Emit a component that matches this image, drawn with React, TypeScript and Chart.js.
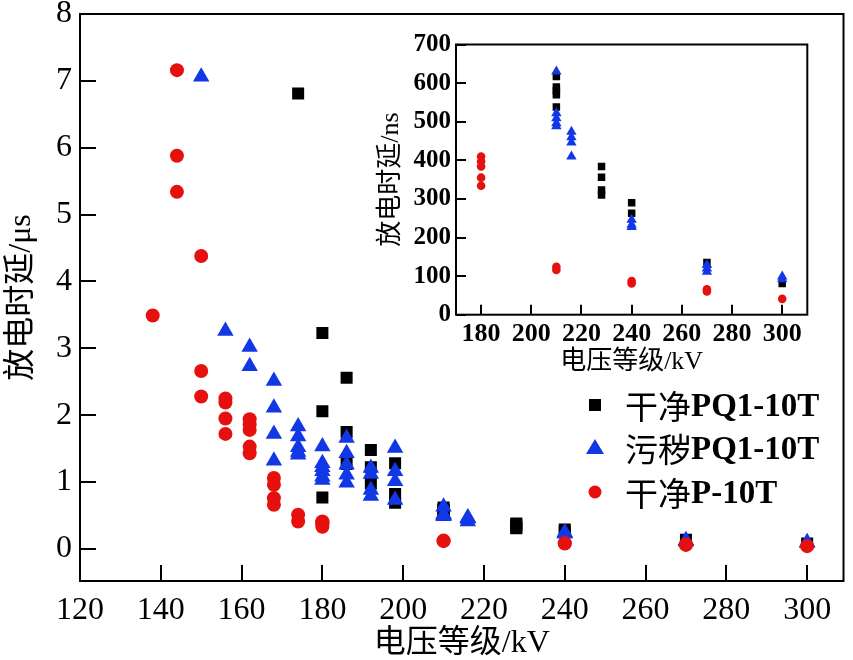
import React, { useEffect, useRef } from 'react';
import { Chart, registerables } from 'chart.js';

Chart.register(...registerables);

// ---------- data ----------
const SERIES_NAMES = ['干净PQ1-10T', '污秽PQ1-10T', '干净P-10T'];
const SERIES_COLORS = ['#000000', '#1238e6', '#e6100e'];

// Main chart: voltage level (kV) vs discharge delay (µs)
const cleanPQ_kV = [174, 180, 180, 180, 186, 186, 186, 192, 192, 192, 198, 198, 198, 210, 210, 210, 210, 210, 228, 228, 228, 228, 240, 240, 270, 300];
const cleanPQ_us = [6.81, 3.23, 2.06, 0.77, 2.56, 1.75, 1.27, 1.48, 1.22, 0.98, 1.28, 0.82, 0.69, 0.62, 0.59, 0.58, 0.57, 0.54, 0.38, 0.36, 0.32, 0.31, 0.29, 0.26, 0.135, 0.08];

const dirtyPQ_kV = [150, 156, 162, 162, 168, 168, 168, 168, 174, 174, 174, 174, 174, 180, 180, 180, 180, 180, 180, 186, 186, 186, 186, 186, 192, 192, 192, 192, 198, 198, 198, 198, 210, 210, 210, 210, 210, 216, 216, 216, 216, 240, 240, 240, 270, 270, 270, 300, 300];
const dirtyPQ_us = [7.06, 3.26, 3.02, 2.73, 2.51, 2.11, 1.72, 1.32, 1.83, 1.68, 1.52, 1.45, 1.41, 1.53, 1.28, 1.22, 1.16, 1.08, 1.03, 1.66, 1.43, 1.26, 1.11, 0.99, 1.21, 1.12, 0.88, 0.79, 1.51, 1.16, 1.01, 0.73, 0.63, 0.52, 0.51, 0.5, 0.49, 0.47, 0.46, 0.45, 0.41, 0.25, 0.23, 0.23, 0.13, 0.12, 0.11, 0.1, 0.09];

const cleanP_kV = [138, 144, 144, 144, 150, 150, 150, 156, 156, 156, 156, 162, 162, 162, 162, 162, 168, 168, 168, 168, 174, 174, 180, 180, 180, 180, 180, 210, 210, 240, 240, 270, 270, 300];
const cleanP_us = [3.49, 7.16, 5.88, 5.34, 4.38, 2.66, 2.28, 2.25, 2.19, 1.95, 1.72, 1.94, 1.86, 1.78, 1.53, 1.43, 1.06, 0.96, 0.76, 0.66, 0.51, 0.41, 0.41, 0.4, 0.38, 0.36, 0.33, 0.124, 0.116, 0.087, 0.081, 0.066, 0.06, 0.041];

const MAIN_X_TICKS = [120, 140, 160, 180, 200, 220, 240, 260, 280, 300];
const MAIN_Y_TICKS = [0, 1, 2, 3, 4, 5, 6, 7, 8];

// Inset: voltage level (kV) vs discharge delay (ns)
const insetCleanPQ_kV = [210, 210, 210, 210, 210, 228, 228, 228, 228, 240, 240, 270, 300];
const insetCleanPQ_ns = [617, 590, 580, 570, 538, 384, 356, 323, 310, 290, 263, 135, 81];

const insetDirtyPQ_kV = [210, 210, 210, 210, 210, 216, 216, 216, 216, 240, 240, 240, 270, 270, 270, 300, 300];
const insetDirtyPQ_ns = [630, 522, 509, 496, 488, 474, 460, 446, 410, 246, 233, 227, 129, 120, 111, 99, 92];

const insetCleanP_kV = [180, 180, 180, 180, 180, 210, 210, 240, 240, 270, 270, 300];
const insetCleanP_ns = [410, 397, 384, 355, 334, 124, 116, 87, 81, 66, 60, 41];

const INSET_X_TICKS = [180, 200, 220, 240, 260, 280, 300];
const INSET_Y_TICKS = [0, 100, 200, 300, 400, 500, 600, 700];

// ---------- helpers ----------
const FONT_FAMILY = '"Liberation Serif", "Noto Sans CJK SC", serif';
const CJK_FAMILY = '"Noto Sans CJK SC", "Liberation Serif", serif';

const toPoints = (xs: number[], ys: number[]) => xs.map((x, i) => ({ x, y: ys[i] }));

const POINT_STYLES = ['rect', 'triangle', 'circle'];

function makeDatasets(series: [number[], number[]][], radii: number[]) {
  return series.map(([xs, ys], i) => ({
    label: SERIES_NAMES[i],
    data: toPoints(xs, ys),
    pointStyle: POINT_STYLES[i],
    pointRadius: radii[i],
    pointHoverRadius: radii[i],
    backgroundColor: SERIES_COLORS[i],
    borderColor: SERIES_COLORS[i],
    borderWidth: 0,
    showLine: false,
    order: 2 - i,
  }));
}

function framePlugin(tickLen: number, xTicks: number[], yTicks: number[]) {
  return {
    id: 'frame',
    beforeDatasetsDraw(chart: any) {
      const { ctx, chartArea } = chart;
      const { left, right, top, bottom } = chartArea;
      const xs = chart.scales.x;
      const ys = chart.scales.y;
      ctx.save();
      ctx.strokeStyle = '#000';
      ctx.lineWidth = 2;
      ctx.beginPath();
      xTicks.forEach((v) => {
        const px = Math.round(xs.getPixelForValue(v));
        ctx.moveTo(px, bottom);
        ctx.lineTo(px, bottom - tickLen);
      });
      yTicks.forEach((v) => {
        const py = Math.round(ys.getPixelForValue(v));
        ctx.moveTo(left, py);
        ctx.lineTo(left + tickLen, py);
      });
      ctx.stroke();
      ctx.strokeRect(left, top, right - left, bottom - top);
      ctx.restore();
    },
  };
}

const legendPlugin = {
  id: 'customLegend',
  afterDraw(chart: any) {
    const ctx = chart.ctx;
    const markerX = 595;
    const textX = 625;
    const rowY = [405, 448, 492];
    ctx.save();
    SERIES_NAMES.forEach((name, i) => {
      const y = rowY[i];
      ctx.fillStyle = SERIES_COLORS[i];
      ctx.beginPath();
      if (i === 0) {
        ctx.rect(markerX - 6, y - 6, 12, 12);
      } else if (i === 1) {
        ctx.moveTo(markerX, y - 9);
        ctx.lineTo(markerX + 9, y + 6);
        ctx.lineTo(markerX - 9, y + 6);
        ctx.closePath();
      } else {
        ctx.arc(markerX, y, 6.5, 0, Math.PI * 2);
      }
      ctx.fill();
      const cjk = name.slice(0, 2);
      const latin = name.slice(2);
      ctx.fillStyle = '#000';
      ctx.textBaseline = 'middle';
      ctx.textAlign = 'left';
      ctx.font = `33px ${CJK_FAMILY}`;
      ctx.fillText(cjk, textX, y + 1);
      const w = ctx.measureText(cjk).width;
      ctx.font = `bold 33px ${FONT_FAMILY}`;
      ctx.fillText(latin, textX + w, y + 2);
    });
    ctx.restore();
  },
};

function fixedTicks(values: number[]) {
  return (scale: any) => {
    scale.ticks = values.map((v) => ({ value: v }));
  };
}

function fitTo(dim: 'width' | 'height', size: number) {
  return (scale: any) => {
    scale[dim] = size;
    scale.paddingTop = 0;
    scale.paddingBottom = 0;
    scale.paddingLeft = 0;
    scale.paddingRight = 0;
  };
}

export default function App() {
  const mainRef = useRef<HTMLCanvasElement | null>(null);
  const insetRef = useRef<HTMLCanvasElement | null>(null);

  useEffect(() => {
    document.body.style.margin = '0';
    if (!mainRef.current || !insetRef.current) return;

    const main = new Chart(mainRef.current, {
      type: 'scatter',
      data: {
        datasets: makeDatasets(
          [
            [cleanPQ_kV, cleanPQ_us],
            [dirtyPQ_kV, dirtyPQ_us],
            [cleanP_kV, cleanP_us],
          ],
          [8.5, 9.5, 7]
        ) as any,
      },
      options: {
        animation: false,
        responsive: false,
        maintainAspectRatio: false,
        events: [],
        layout: { padding: { top: 14, right: 8, left: 0, bottom: 0 } },
        plugins: { legend: { display: false }, tooltip: { enabled: false } },
        scales: {
          x: {
            type: 'linear',
            min: 120,
            max: 309,
            afterBuildTicks: fixedTicks(MAIN_X_TICKS),
            afterFit: fitTo('height', 79),
            grid: { display: false, drawTicks: false },
            border: { display: false },
            ticks: {
              color: '#000',
              font: { family: FONT_FAMILY, size: 32 },
              padding: 10,
              maxRotation: 0,
              autoSkip: false,
            },
            title: {
              display: true,
              text: '电压等级/kV',
              color: '#000',
              font: { family: FONT_FAMILY, size: 32 },
              padding: { top: 0, bottom: -3 },
            },
          },
          y: {
            type: 'linear',
            min: -0.48,
            max: 8,
            afterBuildTicks: fixedTicks(MAIN_Y_TICKS),
            afterFit: fitTo('width', 80),
            grid: { display: false, drawTicks: false },
            border: { display: false },
            ticks: {
              color: '#000',
              font: { family: FONT_FAMILY, size: 32 },
              padding: 8,
              autoSkip: false,
            },
            title: {
              display: true,
              text: '放电时延/μs',
              color: '#000',
              font: { family: FONT_FAMILY, size: 32 },
              padding: { top: 2, bottom: 0 },
            },
          },
        },
      },
      plugins: [framePlugin(16, MAIN_X_TICKS, MAIN_Y_TICKS), legendPlugin],
    });

    const inset = new Chart(insetRef.current, {
      type: 'scatter',
      data: {
        datasets: makeDatasets(
          [
            [insetCleanPQ_kV, insetCleanPQ_ns],
            [insetDirtyPQ_kV, insetDirtyPQ_ns],
            [insetCleanP_kV, insetCleanP_ns],
          ],
          [5.3, 6, 4.3]
        ) as any,
      },
      options: {
        animation: false,
        responsive: false,
        maintainAspectRatio: false,
        events: [],
        layout: { padding: { top: 14.5, right: 12.7, left: 0, bottom: 0 } },
        plugins: { legend: { display: false }, tooltip: { enabled: false } },
        scales: {
          x: {
            type: 'linear',
            min: 170,
            max: 310,
            afterBuildTicks: fixedTicks(INSET_X_TICKS),
            afterFit: fitTo('height', 65.3),
            grid: { display: false, drawTicks: false },
            border: { display: false },
            ticks: {
              color: '#000',
              font: { family: FONT_FAMILY, size: 26, weight: 'bold' },
              padding: 4,
              maxRotation: 0,
              autoSkip: false,
            },
            title: {
              display: true,
              text: '电压等级/kV',
              color: '#000',
              font: { family: FONT_FAMILY, size: 26 },
              padding: { top: 0, bottom: 2 },
            },
          },
          y: {
            type: 'linear',
            min: 0,
            max: 700,
            afterBuildTicks: fixedTicks(INSET_Y_TICKS),
            afterFit: fitTo('width', 86),
            grid: { display: false, drawTicks: false },
            border: { display: false },
            ticks: {
              color: '#000',
              font: { family: FONT_FAMILY, size: 25, weight: 'bold' },
              padding: 5,
              autoSkip: false,
            },
            title: {
              display: true,
              text: '放电时延/ns',
              color: '#000',
              font: { family: FONT_FAMILY, size: 26 },
              padding: { top: 6, bottom: 0 },
            },
          },
        },
      },
      plugins: [framePlugin(10, INSET_X_TICKS, INSET_Y_TICKS)],
    });

    return () => {
      main.destroy();
      inset.destroy();
    };
  }, []);

  return (
    <div style={{ position: 'relative', width: 853, height: 660, background: '#fff' }}>
      <canvas
        ref={mainRef}
        width={853}
        height={660}
        style={{ position: 'absolute', left: 0, top: 0, width: 853, height: 660 }}
      />
      <canvas
        ref={insetRef}
        width={450}
        height={350}
        style={{ position: 'absolute', left: 370, top: 30, width: 450, height: 350 }}
      />
    </div>
  );
}
